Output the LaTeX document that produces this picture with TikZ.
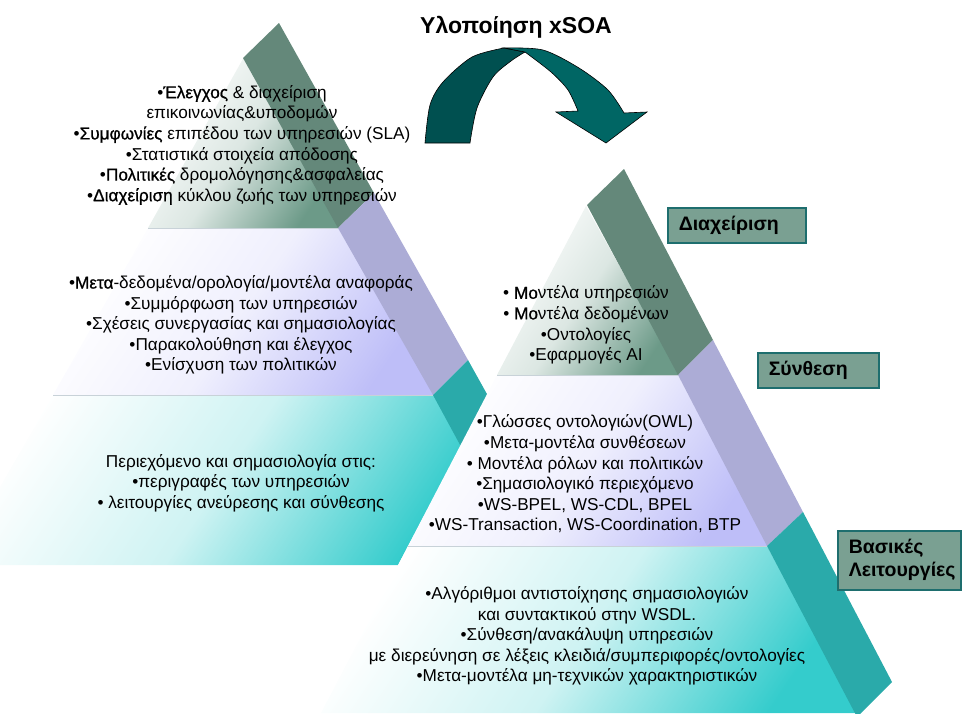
\documentclass[tikz,border=0pt]{standalone}
\usepackage{fontspec}
\setmainfont{Liberation Sans}
\newfontfamily\halfbold[FakeBold=0.9]{Liberation Sans}
\newcommand{\hb}[1]{{\halfbold #1}}
\definecolor{bandgreen}{RGB}{100,136,122}
\definecolor{bandlilac}{RGB}{172,172,214}
\definecolor{bandteal}{RGB}{42,170,170}
\definecolor{fadegreen}{RGB}{108,154,136}
\definecolor{fadelilac}{RGB}{190,190,248}
\definecolor{fadeteal}{RGB}{52,204,204}
\definecolor{boxfill}{RGB}{122,160,146}
\definecolor{boxline}{RGB}{30,110,110}
\definecolor{arrowdark}{RGB}{0,80,80}
\definecolor{arrowlight}{RGB}{0,102,100}
\definecolor{seam}{RGB}{200,210,216}

\begin{document}
\begin{tikzpicture}[x=1pt,y=-1pt,
  tier/.style={left color=white, right color=#1, middle color=#1!24, shading angle=56},
  seamline/.style={draw=seam, line width=1pt},
  body/.style={font=\fontsize{17.2}{20.6}\selectfont, align=center, inner sep=0pt},
  tag/.style={draw=boxline, line width=1.5pt, fill=boxfill, anchor=north west,
    font=\fontsize{19.5}{23}\selectfont\bfseries, align=left, inner xsep=11pt, inner ysep=0pt},
  headline/.style={font=\fontsize{23}{27}\selectfont\bfseries, inner sep=0pt}]
\useasboundingbox (0,0) rectangle (962,713);
\clip (0,0) rectangle (962,713);

% ---- left pyramid: tiers ----
\shade[tier=fadegreen] (244,57) -- (148,228) -- (340,228) -- cycle;
\shade[tier=fadelilac] (148,228) -- (53,395) -- (435,395) -- (340,228) -- cycle;
\shade[tier=fadeteal] (53,395) -- (-45,565) -- (398,565) -- (488,395) -- cycle;
% ---- left pyramid: slanted band ----
\fill[bandgreen] (243,58) -- (279,23) -- (374,193) -- (338,228) -- cycle;
\fill[bandlilac] (338,228) -- (374,193) -- (468,360) -- (433,395) -- cycle;
\fill[bandteal]  (433,395) -- (468,360) -- (546,500) -- (490,500) -- cycle;
\draw[seamline] (148,228) -- (338,228);
\draw[seamline] (53,395) -- (433,395);

% ---- right pyramid: tiers ----
\shade[tier=fadegreen] (586,206) -- (497,375) -- (680,375) -- cycle;
\shade[tier=fadelilac] (497,375) -- (408,546) -- (769,546) -- (678,375) -- cycle;
\shade[tier=fadeteal]  (408,546) -- (321,713) -- (860,713) -- (767,546) -- cycle;
% ---- right pyramid: slanted band ----
\fill[bandgreen] (587,205) -- (624,169) -- (713,340) -- (678,375) -- cycle;
\fill[bandlilac] (678,375) -- (713,340) -- (803,512) -- (767,546) -- cycle;
\fill[bandteal]  (767,546) -- (803,512) -- (892,682) -- (857,717) -- cycle;
\draw[seamline] (497,375) -- (678,375);
\draw[seamline] (408,546) -- (767,546);

% ---- tier texts ----
\node[body] (mgmtL) at (242,145) {•\hb{Έλεγχος} \& διαχείριση\\επικοινωνίας\&υποδομών\\•\hb{Συμφωνίες} επιπέδου των υπηρεσιών (SLA)\\•Στατιστικά στοιχεία απόδοσης\\•\hb{Πολιτικές} δρομολόγησης\&ασφαλείας\\•\hb{Διαχείριση} κύκλου ζωής των υπηρεσιών};
\node[body] (compL) at (241,325) {•\hb{Μετα}-δεδομένα/ορολογία/μοντέλα αναφοράς\\•Συμμόρφωση των υπηρεσιών\\•Σχέσεις συνεργασίας και σημασιολογίας\\•Παρακολούθηση και έλεγχος\\•Ενίσχυση των πολιτικών};
\node[body] (baseL) at (241,483) {Περιεχόμενο και σημασιολογία στις:\\•περιγραφές των υπηρεσιών\\• λειτουργίες ανεύρεσης και σύνθεσης};
\node[body] (mgmtR) at (586,325) {• \hb{Μο}ντέλα υπηρεσιών\\• \hb{Μο}ντέλα δεδομένων\\•Οντολογίες\\•Εφαρμογές AI};
\node[body] (compR) at (585,474) {•Γλώσσες οντολογιών(OWL)\\•Μετα-μοντέλα συνθέσεων\\• Μοντέλα ρόλων και πολιτικών\\•Σημασιολογικό περιεχόμενο\\•WS-BPEL, WS-CDL, BPEL\\•WS-Transaction, WS-Coordination, BTP};
\node[body] (baseR) at (587,636) {•Αλγόριθμοι αντιστοίχησης σημασιολογιών\\και συντακτικού στην WSDL.\\•Σύνθεση/ανακάλυψη υπηρεσιών\\με διερεύνηση σε λέξεις κλειδιά/συμπεριφορές/οντολογίες\\•Μετα-μοντέλα μη-τεχνικών χαρακτηριστικών};

% ---- curved arrow between the pyramids ----
\filldraw[fill=arrowdark, draw=black, line width=0.6pt]
  plot[smooth] coordinates {(425,143) (430,105) (443,82) (472,57) (504,48)}
  -- (525,52)
  -- plot[smooth] coordinates {(525,52) (511,61) (493,77) (477,108) (470,143)}
  -- cycle;
\filldraw[fill=arrowlight, draw=black, line width=0.6pt]
  plot[smooth] coordinates {(504,48) (543,50) (579,68) (608,90) (624,113)}
  -- (647,112) -- (606,143) -- (556,112) -- (578,111)
  -- plot[smooth] coordinates {(578,111) (568,90) (551,72) (525,52)}
  -- cycle;
\node[headline] (title) at (516,27) {Υλοποίηση xSOA};

% ---- level labels ----
\node[tag, minimum width=138pt, minimum height=35pt, text width=116pt] (lblM) at (667,207) {Διαχείριση};
\node[tag, minimum width=121pt, minimum height=35pt, text width=99pt] (lblC) at (757,352) {Σύνθεση};
\node[tag, minimum width=123pt, minimum height=59pt, text width=101pt] (lblB) at (837,530) {Βασικές\\Λειτουργίες};
\end{tikzpicture}
\end{document}
